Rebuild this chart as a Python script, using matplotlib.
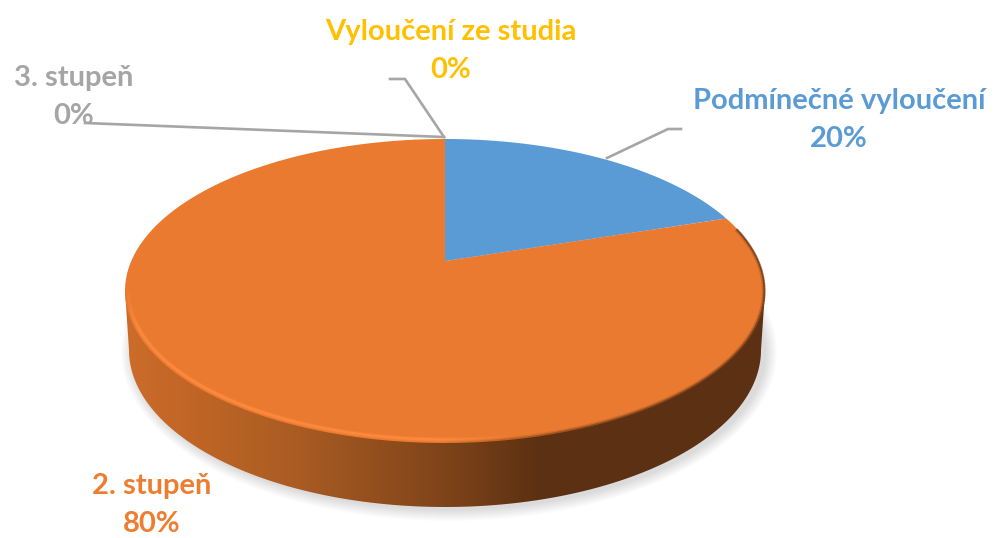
import numpy as np
import matplotlib
matplotlib.use('Agg')
import matplotlib.pyplot as plt
from matplotlib.collections import LineCollection
from matplotlib.patches import Polygon
from matplotlib.transforms import Affine2D

plt.rcParams['font.family'] = ['Lato', 'DejaVu Sans']

# Data
categories = ['Podmínečné vyloučení', '2. stupeň', '3. stupeň', 'Vyloučení ze studia']
values = [20, 80, 0, 0]
slice_colors = ['#5B9BD5', '#E97A30', '#A5A5A5', '#FFC000']
label_colors = ['#5B9BD5', '#ED7D31', '#A5A5A5', '#FFC000']

fig = plt.figure(figsize=(9.95, 5.38), dpi=100)
ax = fig.add_axes([0, 0, 1, 1])

# top face of the disc, in pixels
cx, cy, rx, ry = 445, 291, 320, 152
tilt = 0.197


def persp(xy):
    # projective map, the unit circle stays a circle but its centre moves up
    u, v = xy[:, 0], xy[:, 1]
    d = 1 + tilt * v
    return np.column_stack([cx + rx * u * np.sqrt(1 - tilt ** 2) / d,
                            cy - ry * (v + tilt) / d])


wedges, _ = ax.pie(values, colors=slice_colors, startangle=90, counterclock=False)
ax.set_aspect('auto')
ax.set_xlim(0, 995)
ax.set_ylim(538, 0)
ax.axis('off')

# shadow under the disc
t = np.linspace(0, 2 * np.pi, 400)
for k in range(12, 0, -1):
    shadow = np.column_stack([449 + (316 + k) * np.cos(t), 352 + (157 + k) * np.sin(t)])
    ax.add_patch(Polygon(shadow, closed=True, fc='#000000', ec='none', alpha=0.012, zorder=1))

# side of the disc, gradient clipped to the outline
t = np.linspace(np.pi, 0, 200)
side = np.vstack([[[125, 291]],
                  np.column_stack([445 + 316 * np.cos(t), 350 + 157 * np.sin(t)]),
                  [[765, 291]]])
stops = [125, 200, 293, 443, 540, 765]
rgb = np.array([[0xCC, 0x6C, 0x2A], [0xBE, 0x65, 0x25], [0xAB, 0x5C, 0x23],
                [0x7F, 0x44, 0x19], [0x5C, 0x30, 0x12], [0x5C, 0x30, 0x12]]) / 255
xs = np.arange(125, 767)
grad = np.column_stack([np.interp(xs, stops, rgb[:, i]) for i in range(3)])[None, :, :]
clip = Polygon(side, closed=True, fc='none', ec='none', transform=ax.transData)
ax.add_patch(clip)
im = ax.imshow(grad, extent=(125, 767, 520, 130), aspect='auto', zorder=2)
im.set_clip_path(clip)
ax.set_xlim(0, 995)
ax.set_ylim(538, 0)

# slices of the top face, taken from the pie wedges
for w in wedges:
    w.set_visible(False)
    if abs(w.theta2 - w.theta1) == 0:
        continue
    # flatten at a large scale so the arc comes out smooth
    path = w.get_path().interpolated(1)
    big = (w.get_patch_transform() + Affine2D().scale(1000)).transform_path(path)
    poly = big.to_polygons()[0] / 1000
    ax.add_patch(Polygon(persp(poly), closed=True, fc=w.get_facecolor(), ec='none', zorder=3))

# bevel along the rim
t = np.linspace(np.pi, -0.42, 360)


def rim(inset, color, alpha, width, zorder=4):
    x = cx + (rx - inset) * np.cos(t)
    y = cy + (ry - inset) * np.sin(t)
    pts = np.column_stack([x, y])
    segs = np.stack([pts[:-1], pts[1:]], axis=1)
    cols = np.tile(matplotlib.colors.to_rgba(color), (len(segs), 1))
    cols[:, 3] = alpha(x[:-1])
    ax.add_collection(LineCollection(segs, colors=cols, linewidths=width, zorder=zorder,
                                     capstyle='butt'))


light = lambda x: np.interp(x, [125, 138, 430, 520], [0.0, 0.9, 0.9, 0.0]) * (t[:-1] > 0)
rim(3.5, '#FF8B3E', lambda x: light(x) * 0.5, 3.2)
rim(3.5, '#FF8B3E', light, 1.6)
dark = lambda x: np.interp(x, [440, 560, 765], [0.0, 0.5, 0.7]) * (x > 440)
rim(0.5, '#5C3012', dark, 1.5)
rim(1.8, '#5C3012', lambda x: dark(x) * 0.35, 1.8)

# leader lines
leader = '#A6A6A6'
ax.plot([607, 668, 681], [158, 129, 129], color=leader, lw=1.9, zorder=5, solid_joinstyle='miter')
ax.plot([390, 405, 444], [79, 79, 137], color=leader, lw=1.9, zorder=5, solid_joinstyle='miter')
ax.plot([85, 444], [123, 137], color=leader, lw=1.9, zorder=5)

# labels, one per category
label_pos = [(839, 120), (152, 505), (74, 97), (451, 51)]
for name, val, col, (lx, ly) in zip(categories, values, label_colors, label_pos):
    ax.text(lx, ly, '%s\n%d%%' % (name, val), color=col, fontsize=21, fontweight='bold',
            ha='center', va='center', linespacing=1.6, zorder=6)

plt.savefig('out.png', dpi=100)
